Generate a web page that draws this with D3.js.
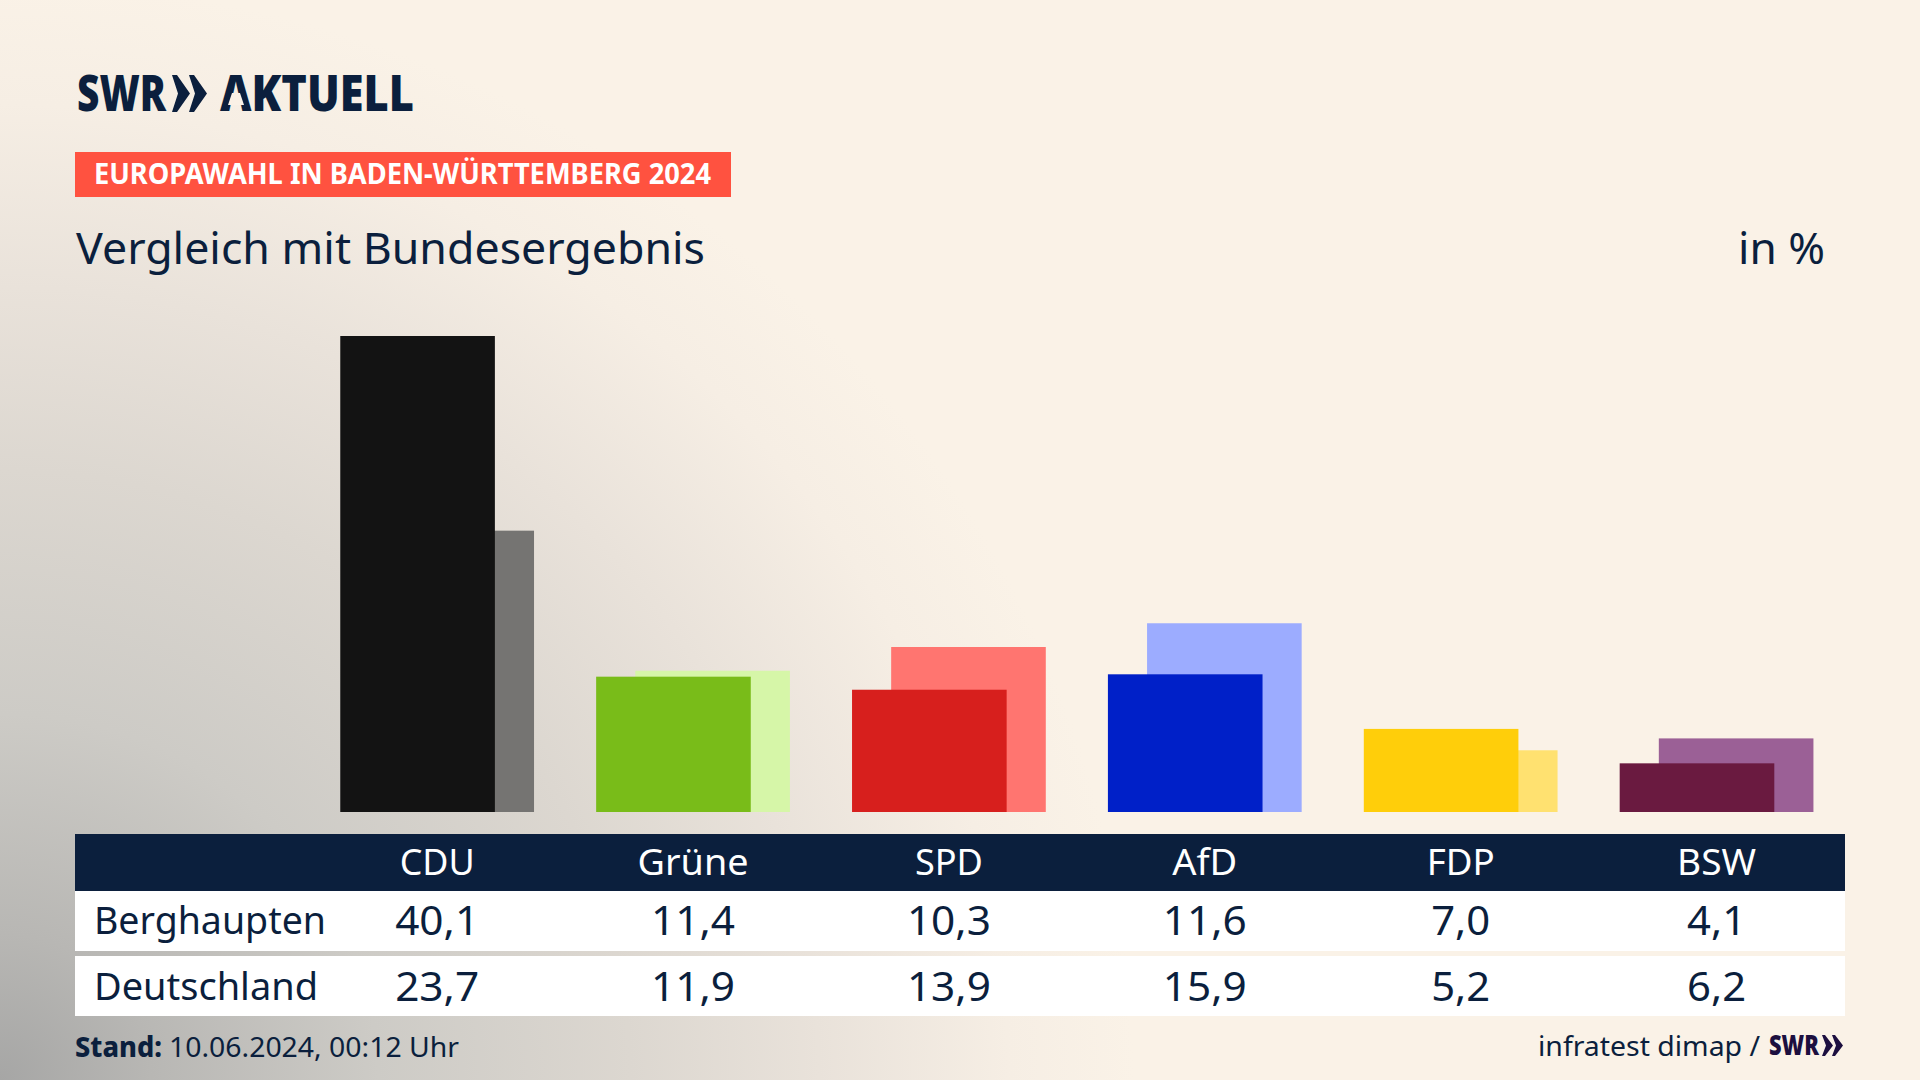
<!DOCTYPE html>
<html lang="de">
<head>
<meta charset="utf-8">
<title>Europawahl in Baden-Württemberg 2024</title>
<script src="https://cdn.jsdelivr.net/npm/d3@7/dist/d3.min.js"></script>
<style>
html,body{margin:0;padding:0;width:1920px;height:1080px;overflow:hidden;background:#faf2e7}
svg{display:block;background:radial-gradient(ellipse 1260px 1220px at 0px 1080px,#a6a6a5 0%,#b8b7b4 12%,#cdcbc6 30%,#dcd7d0 50%,#e9e2da 65%,#f6eee4 80%,#faf2e7 90%)}
text{font-family:"Noto Sans",sans-serif}
</style>
</head>
<body>
<svg id="chart" width="1920" height="1080" viewBox="0 0 1920 1080"></svg>
<script>
const parties = ["CDU","Grüne","SPD","AfD","FDP","BSW"];
const berghaupten = [40.1,11.4,10.3,11.6,7.0,4.1];
const deutschland = [23.7,11.9,13.9,15.9,5.2,6.2];
const frontColors = ["#131313","#79bc19","#d71f1d","#0020c8","#ffce0a","#6a1a40"];
const backColors = ["#757472","#d6f6a8","#ff7570","#9cacff","#ffe170","#9b6096"];
const rowLabels = ["Berghaupten","Deutschland"];
const headerWidths = [75,111,68,65,68,79];
const navy = "#0b1f3d";

const svg = d3.select("#chart");
const x = d3.scaleBand().domain(parties).range([309.2,1844.5]).paddingInner(0.2428).paddingOuter(0.1214);
const y = d3.scaleLinear().domain([0,40.1]).range([812,336]);
const barW = x.bandwidth()*0.798;
const off = x.bandwidth()-barW;
const fmt = v => v.toFixed(1).replace(".",",");
const valueWidth = s => s.length === 4 ? 84 : 59;

function label(px,py,str,size,width,opts={}){
  return svg.append("text").attr("x",px).attr("y",py).text(str)
    .attr("font-size",size).attr("font-weight",opts.weight||400)
    .attr("fill",opts.fill||navy).attr("text-anchor",opts.anchor||"start")
    .attr("textLength",width).attr("lengthAdjust","spacingAndGlyphs");
}

// logo
label(77,111,"SWR",50,89,{weight:900});
label(220,111,"AKTUELL",50,194,{weight:900});
svg.append("path").attr("fill","#faf1e6").attr("d","M232,93 L240,93 L244,105 L228,105 Z");
const chev = ox => `M${ox},75 L${ox+5},75 L${ox+18},93.5 L${ox+5},112 L${ox},112 L${ox+6},93.5 Z`;
svg.append("path").attr("fill",navy).attr("d",chev(172)+chev(189));

// tag and titles
svg.append("rect").attr("x",75).attr("y",152).attr("width",656).attr("height",45).attr("fill","#ff5240");
label(94,184,"EUROPAWAHL IN BADEN-WÜRTTEMBERG 2024",28,617,{weight:700,fill:"#fff"});
label(76,264,"Vergleich mit Bundesergebnis",44,629);
label(1738,264,"in %",44,87);

// bars
const groups = svg.append("g").selectAll("g").data(parties).join("g");
groups.append("rect").attr("x",d=>x(d)+off).attr("width",barW)
  .attr("y",(d,i)=>y(deutschland[i])).attr("height",(d,i)=>y(0)-y(deutschland[i]))
  .attr("fill",(d,i)=>backColors[i]);
groups.append("rect").attr("x",d=>x(d)).attr("width",barW)
  .attr("y",(d,i)=>y(berghaupten[i])).attr("height",(d,i)=>y(0)-y(berghaupten[i]))
  .attr("fill",(d,i)=>frontColors[i]);

// table
svg.append("rect").attr("x",75).attr("y",834).attr("width",1770).attr("height",57).attr("fill",navy);
svg.append("rect").attr("x",75).attr("y",891).attr("width",1770).attr("height",60).attr("fill","#fff");
svg.append("rect").attr("x",75).attr("y",956).attr("width",1770).attr("height",60).attr("fill","#fff");
const cx = d => x(d)+x.bandwidth()/2;
parties.forEach((p,i)=>{
  label(cx(p),875,p,37,headerWidths[i],{fill:"#fff",anchor:"middle"});
  const a = fmt(berghaupten[i]), b = fmt(deutschland[i]);
  label(cx(p),935,a,40,valueWidth(a),{anchor:"middle"});
  label(cx(p),1001,b,40,valueWidth(b),{anchor:"middle"});
});
label(94,934,rowLabels[0],38,232);
label(94,1000,rowLabels[1],38,224);

// footer
label(75,1057,"Stand:",28,87,{weight:800});
label(169,1057,"10.06.2024, 00:12 Uhr",28,290);
label(1538,1055.5,"infratest dimap /",28,222);
label(1769,1055,"SWR",28,50,{weight:900,fill:"#1c0f3f"});
const chev2 = ox => `M${ox},1035 L${ox+3},1035 L${ox+11},1045.5 L${ox+3},1056 L${ox},1056 L${ox+4},1045.5 Z`;
svg.append("path").attr("fill","#1c0f3f").attr("d",chev2(1822)+chev2(1832));
</script>
</body>
</html>
